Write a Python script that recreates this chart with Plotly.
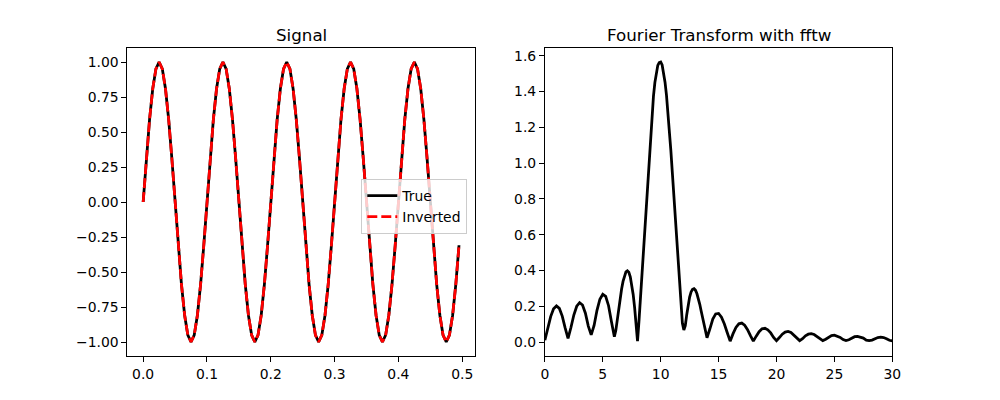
import plotly.graph_objects as go

# ---- Left panel: sampled signal ----
t = [0.000, 0.005, 0.010, 0.015, 0.020, 0.025, 0.030, 0.035, 0.040, 0.045,
     0.050, 0.055, 0.060, 0.065, 0.070, 0.075, 0.080, 0.085, 0.090, 0.095,
     0.100, 0.105, 0.110, 0.115, 0.120, 0.125, 0.130, 0.135, 0.140, 0.145,
     0.150, 0.155, 0.160, 0.165, 0.170, 0.175, 0.180, 0.185, 0.190, 0.195,
     0.200, 0.205, 0.210, 0.215, 0.220, 0.225, 0.230, 0.235, 0.240, 0.245,
     0.250, 0.255, 0.260, 0.265, 0.270, 0.275, 0.280, 0.285, 0.290, 0.295,
     0.300, 0.305, 0.310, 0.315, 0.320, 0.325, 0.330, 0.335, 0.340, 0.345,
     0.350, 0.355, 0.360, 0.365, 0.370, 0.375, 0.380, 0.385, 0.390, 0.395,
     0.400, 0.405, 0.410, 0.415, 0.420, 0.425, 0.430, 0.435, 0.440, 0.445,
     0.450, 0.455, 0.460, 0.465, 0.470, 0.475, 0.480, 0.485, 0.490, 0.495]

signal_true = [
    0.0, 0.309, 0.588, 0.809, 0.951, 1.0, 0.951, 0.809, 0.588, 0.309,
    0.0, -0.309, -0.588, -0.809, -0.951, -1.0, -0.951, -0.809, -0.588, -0.309,
    0.0, 0.309, 0.588, 0.809, 0.951, 1.0, 0.951, 0.809, 0.588, 0.309,
    0.0, -0.309, -0.588, -0.809, -0.951, -1.0, -0.951, -0.809, -0.588, -0.309,
    0.0, 0.309, 0.588, 0.809, 0.951, 1.0, 0.951, 0.809, 0.588, 0.309,
    0.0, -0.309, -0.588, -0.809, -0.951, -1.0, -0.951, -0.809, -0.588, -0.309,
    0.0, 0.309, 0.588, 0.809, 0.951, 1.0, 0.951, 0.809, 0.588, 0.309,
    0.0, -0.309, -0.588, -0.809, -0.951, -1.0, -0.951, -0.809, -0.588, -0.309,
    0.0, 0.309, 0.588, 0.809, 0.951, 1.0, 0.951, 0.809, 0.588, 0.309,
    0.0, -0.309, -0.588, -0.809, -0.951, -1.0, -0.951, -0.809, -0.588, -0.309]

signal_inverted = list(signal_true)

# ---- Right panel: Fourier magnitude ----
freq = [0.00, 0.25, 0.50, 0.75, 1.00, 1.25, 1.50, 1.75, 2.00, 2.25, 2.50, 2.75,
        3.00, 3.25, 3.50, 3.75, 4.00, 4.25, 4.50, 4.75, 5.00, 5.25, 5.50, 5.75,
        6.000, 6.125, 6.250, 6.375, 6.500, 6.625, 6.750, 6.875,
        7.000, 7.125, 7.250, 7.375, 7.500, 7.625, 7.750, 7.875,
        8.000, 8.125, 8.250, 8.375, 8.500, 8.625, 8.750, 8.875,
        9.000, 9.125, 9.250, 9.375, 9.500, 9.625, 9.750, 9.875,
        10.000, 10.125, 10.250, 10.375, 10.500, 10.625, 10.750, 10.875,
        11.000, 11.125, 11.250, 11.375, 11.500, 11.625, 11.750, 11.875,
        12.000, 12.125, 12.250, 12.375, 12.500, 12.625, 12.750, 12.875,
        13.000, 13.125, 13.250, 13.375, 13.500, 13.625, 13.750, 13.875,
        14.00, 14.25, 14.50, 14.75,
        15.00, 15.25, 15.50, 15.75, 16.00, 16.25, 16.50, 16.75, 17.00, 17.25, 17.50, 17.75,
        18.00, 18.25, 18.50, 18.75, 19.00, 19.25, 19.50, 19.75, 20.00, 20.25, 20.50, 20.75,
        21.00, 21.25, 21.50, 21.75, 22.00, 22.25, 22.50, 22.75, 23.00, 23.25, 23.50, 23.75,
        24.00, 24.25, 24.50, 24.75, 25.00, 25.25, 25.50, 25.75, 26.00, 26.25, 26.50, 26.75,
        27.00, 27.25, 27.50, 27.75, 28.00, 28.25, 28.50, 28.75, 29.00, 29.25, 29.50, 29.75,
        30.00]

magnitude = [0.010, 0.077, 0.142, 0.186, 0.202, 0.188, 0.145, 0.079, 0.020, 0.081, 0.151, 0.200,
             0.220, 0.207, 0.161, 0.089, 0.040, 0.093, 0.177, 0.239, 0.267, 0.255, 0.203, 0.114,
             0.030, 0.064, 0.126, 0.187, 0.245, 0.296, 0.339, 0.372,
             0.392, 0.398, 0.390, 0.365, 0.323, 0.266, 0.192, 0.103,
             0.005, 0.115, 0.240, 0.372, 0.510, 0.649, 0.788, 0.924,
             1.053, 1.172, 1.280, 1.373, 1.451, 1.508, 1.546, 1.562,
             1.565, 1.548, 1.510, 1.452, 1.380, 1.290, 1.187, 1.074,
             0.952, 0.825, 0.696, 0.566, 0.439, 0.316, 0.201, 0.105,
             0.067, 0.092, 0.153, 0.209, 0.251, 0.280, 0.295, 0.298,
             0.290, 0.271, 0.245, 0.211, 0.172, 0.130, 0.086, 0.045,
             0.024, 0.074, 0.128, 0.157,
             0.160, 0.139, 0.101, 0.052, 0.005, 0.047, 0.082, 0.102, 0.106, 0.094, 0.069, 0.036,
             0.005, 0.033, 0.058, 0.074, 0.077, 0.068, 0.051, 0.026, 0.008, 0.025, 0.044, 0.056,
             0.059, 0.053, 0.039, 0.021, 0.008, 0.019, 0.035, 0.044, 0.047, 0.042, 0.031, 0.017,
             0.008, 0.016, 0.028, 0.036, 0.038, 0.034, 0.026, 0.014, 0.008, 0.013, 0.024, 0.030,
             0.032, 0.029, 0.022, 0.011, 0.008, 0.011, 0.020, 0.025, 0.027, 0.025, 0.018, 0.010,
             0.007]

FONT = "DejaVu Sans"
TICK_PX = 13.9
TITLE_PX = 16.7

fig = go.Figure()

fig.add_trace(go.Scatter(x=t, y=signal_true, mode="lines", name="True",
                         line=dict(color="black", width=2.78),
                         xaxis="x", yaxis="y"))
fig.add_trace(go.Scatter(x=t, y=signal_inverted, mode="lines", name="Inverted",
                         line=dict(color="red", width=2.78, dash="10px,4px"),
                         xaxis="x", yaxis="y"))
fig.add_trace(go.Scatter(x=freq, y=magnitude, mode="lines", showlegend=False,
                         line=dict(color="black", width=2.78),
                         xaxis="x2", yaxis="y2"))

axis_common = dict(showgrid=False, zeroline=False, showline=True, linecolor="black",
                   linewidth=1.1, mirror=True, ticks="outside", ticklen=4.9,
                   tickwidth=1.1, tickcolor="black",
                   tickfont=dict(family=FONT, size=TICK_PX, color="black"))

fig.update_layout(
    width=1000, height=400,
    margin=dict(l=0, r=0, t=0, b=0),
    paper_bgcolor="white", plot_bgcolor="white",
    font=dict(family=FONT, size=TICK_PX, color="black"),
    xaxis=dict(domain=[0.125, 0.477], range=[-0.02475, 0.51975],
               tickvals=[0.0, 0.1, 0.2, 0.3, 0.4, 0.5], tickformat=".1f",
               anchor="y", **axis_common),
    yaxis=dict(domain=[0.11, 0.88], range=[-1.1, 1.1],
               tickvals=[-1.0, -0.75, -0.5, -0.25, 0.0, 0.25, 0.5, 0.75, 1.0],
               tickformat=".2f", anchor="x", **axis_common),
    xaxis2=dict(domain=[0.548, 0.9], range=[0, 30],
                tickvals=[0, 5, 10, 15, 20, 25, 30], anchor="y2", **axis_common),
    yaxis2=dict(domain=[0.11, 0.88], range=[-0.078, 1.643],
                tickvals=[0.0, 0.2, 0.4, 0.6, 0.8, 1.0, 1.2, 1.4, 1.6],
                tickformat=".1f", anchor="x2", **axis_common),
    legend=dict(x=0.362, y=0.5525, xanchor="left", yanchor="top",
                bgcolor="rgba(255,255,255,0.8)", bordercolor="#cccccc", borderwidth=1,
                font=dict(family=FONT, size=TICK_PX, color="black"),
                tracegroupgap=0, itemwidth=30),
    annotations=[
        dict(text="Signal", x=0.301, y=0.88, xref="paper", yref="paper",
             xanchor="center", yanchor="bottom", yshift=1, showarrow=False,
             font=dict(family=FONT, size=TITLE_PX, color="black")),
        dict(text="Fourier Transform with fftw", x=0.724, y=0.88, xref="paper", yref="paper",
             xanchor="center", yanchor="bottom", yshift=1, showarrow=False,
             font=dict(family=FONT, size=TITLE_PX, color="black")),
    ],
)

fig.write_html("out.html")
